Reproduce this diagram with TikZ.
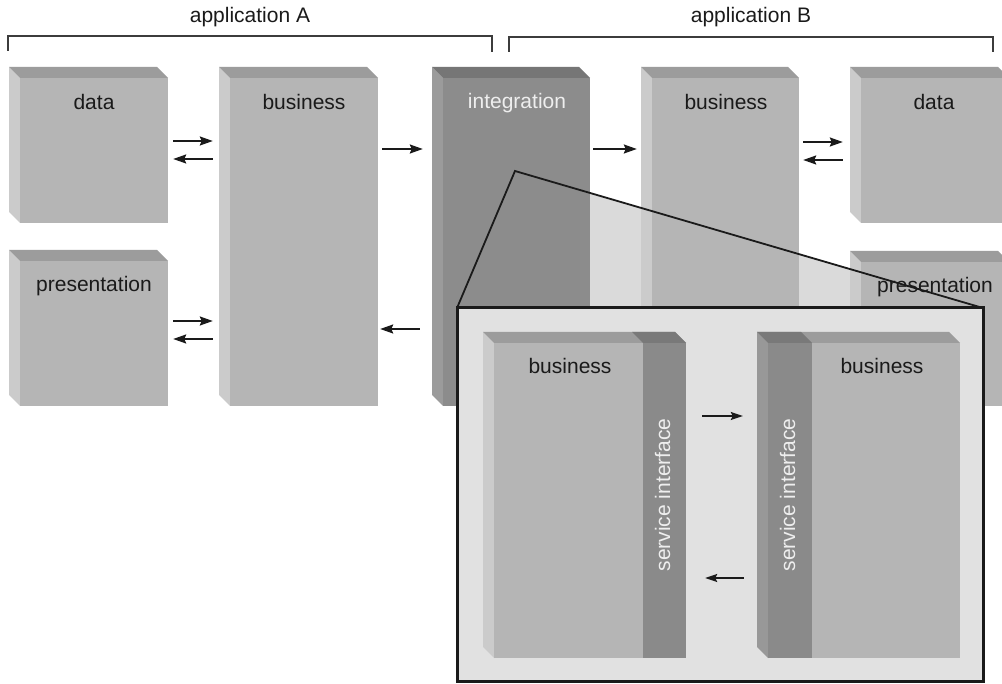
\documentclass[tikz,border=0pt]{standalone}
\usepackage{fontspec}
\setmainfont{Liberation Sans}
\usetikzlibrary{arrows.meta,fit}

\definecolor{txtdark}{HTML}{1A1A1A}
\definecolor{txtlight}{HTML}{EEEEEE}
\definecolor{plainfront}{HTML}{B5B5B5}
\definecolor{plaintop}{HTML}{9C9C9C}
\definecolor{plainside}{HTML}{CBCBCB}
\definecolor{integfront}{HTML}{8C8C8C}
\definecolor{integtop}{HTML}{767676}
\definecolor{integside}{HTML}{9B9B9B}
\definecolor{sifront}{HTML}{8A8A8A}
\definecolor{sitop}{HTML}{797979}
\definecolor{siside}{HTML}{989898}
\definecolor{insetbg}{HTML}{E1E1E1}
\definecolor{wedgefill}{HTML}{DADADA}
\definecolor{inkline}{HTML}{1A1A1A}

% A slab seen from the upper left: #1 name, (#2,#3) back top-left corner,
% #4 right edge of the front face, #5 bottom edge, #6 colour prefix.
\newcommand\slab[6]{%
  \fill[#6side] (#2,#3) -- (#2+11,#3+11) -- (#2+11,#5) -- (#2,#5-11) -- cycle;
  \fill[#6top] (#2,#3) -- (#4-11,#3) -- (#4,#3+11) -- (#2+11,#3+11) -- cycle;
  \fill[#6front] (#2+11,#3+11) rectangle (#4,#5);
  \node[fit={(#2,#3) (#4,#5)}, inner sep=0pt] (#1) {};
}

\begin{document}
\begin{tikzpicture}[x=1pt,y=-1pt,
  lbl/.style={font=\fontsize{21}{25}\selectfont, text=txtdark, inner sep=0pt, anchor=base},
  lbllight/.style={lbl, text=txtlight},
  arr/.style={line width=2pt, draw=inkline, -{Stealth[length=13pt,width=9pt,inset=2pt]}},
  arrsmall/.style={line width=1.6pt, draw=inkline, -{Stealth[length=12pt,width=8pt,inset=2pt]}},
  brk/.style={line width=1.3pt, draw=inkline!85},
  zoomline/.style={line width=1.8pt, draw=inkline, line join=miter},
]
\useasboundingbox (0,0) rectangle (1002,684);
\clip (0,0) rectangle (1002,684);
\fill[white] (0,0) rectangle (1002,684);

% application brackets
\node[lbl] (appA) at (250,23) {application A};
\node[lbl] (appB) at (751,23) {application B};
\draw[brk] (8,51) -- (8,36) -- (492,36) -- (492,52);
\draw[brk] (509,52) -- (509,37) -- (993,37) -- (993,52);

% zoom wedge (fill behind the slabs)
\coordinate (apex) at (515,171);
\coordinate (zl) at (457,308);
\coordinate (zr) at (983,308);
\fill[wedgefill] (apex) -- (zl) -- (zr) -- cycle;

% application A
\slab{dataA}{9}{67}{168}{223}{plain}
\slab{presA}{9}{250}{168}{406}{plain}
\slab{busA}{219}{67}{378}{406}{plain}
% integration layer
\slab{integ}{432}{67}{590}{406}{integ}
% application B
\slab{busB}{641}{67}{799}{406}{plain}
\slab{dataB}{850}{67}{1009}{223}{plain}
\slab{presB}{850}{251}{1009}{406}{plain}

\node[lbl] (tdataA) at (94,110) {data};
\node[lbl] (tpresA) at (94,292) {presentation};
\node[lbl] (tbusA) at (304,110) {business};
\node[lbllight] (tinteg) at (517,109) {integration};
\node[lbl] (tbusB) at (726,110) {business};
\node[lbl] (tdataB) at (934,110) {data};
\node[lbl] (tpresB) at (935,293) {presentation};

% arrows between layers
\draw[arr, shorten <=5pt, shorten >=6pt] (dataA.east |- 0,141) -- (busA.west |- 0,141);
\draw[arr, shorten <=6pt, shorten >=5pt] (busA.west |- 0,159) -- (dataA.east |- 0,159);
\draw[arr, shorten <=5pt, shorten >=6pt] (presA.east |- 0,321) -- (busA.west |- 0,321);
\draw[arr, shorten <=6pt, shorten >=5pt] (busA.west |- 0,339) -- (presA.east |- 0,339);
\draw[arr, shorten <=4pt, shorten >=9pt] (busA.east |- 0,149) -- (integ.west |- 0,149);
\draw[arr, shorten <=12pt, shorten >=2pt] (integ.west |- 0,329) -- (busA.east |- 0,329);
\draw[arr, shorten <=3pt, shorten >=4pt] (integ.east |- 0,149) -- (busB.west |- 0,149);
\draw[arr, shorten <=4pt, shorten >=7pt] (busB.east |- 0,142) -- (dataB.west |- 0,142);
\draw[arr, shorten <=7pt, shorten >=4pt] (dataB.west |- 0,160) -- (busB.east |- 0,160);

% zoom wedge outline
\draw[zoomline] (zl) -- (apex) -- (zr);

% detail view of the integration layer
\node[fit={(457,308) (983,681)}, inner sep=0pt, fill=insetbg, draw=inkline, line width=3pt] (inset) {};

% left business block with its service interface on the right
\slab{inL}{483}{332}{686}{658}{plain}
\fill[sifront] (643,343) rectangle (686,658);
\fill[sitop] (632,332) -- (675,332) -- (686,343) -- (643,343) -- cycle;
\node[fit={(643,343) (686,658)}, inner sep=0pt] (siL) {};

% right business block with its service interface on the left
\slab{inR}{757}{332}{960}{658}{plain}
\fill[siside] (757,332) -- (768,343) -- (768,658) -- (757,647) -- cycle;
\fill[sifront] (768,343) rectangle (812,658);
\fill[sitop] (757,332) -- (801,332) -- (812,343) -- (768,343) -- cycle;
\node[fit={(768,343) (812,658)}, inner sep=0pt] (siR) {};

\node[lbl] (tinL) at (570,374) {business};
\node[lbl] (tinR) at (882,374) {business};
\node[lbllight, rotate=90] (tsiL) at (670,495) {service interface};
\node[lbllight, rotate=90] (tsiR) at (795,495) {service interface};

\draw[arrsmall, shorten <=16pt, shorten >=14pt] (inL.east |- 0,416) -- (inR.west |- 0,416);
\draw[arrsmall, shorten <=13pt, shorten >=19pt] (inR.west |- 0,578) -- (inL.east |- 0,578);
\end{tikzpicture}
\end{document}
